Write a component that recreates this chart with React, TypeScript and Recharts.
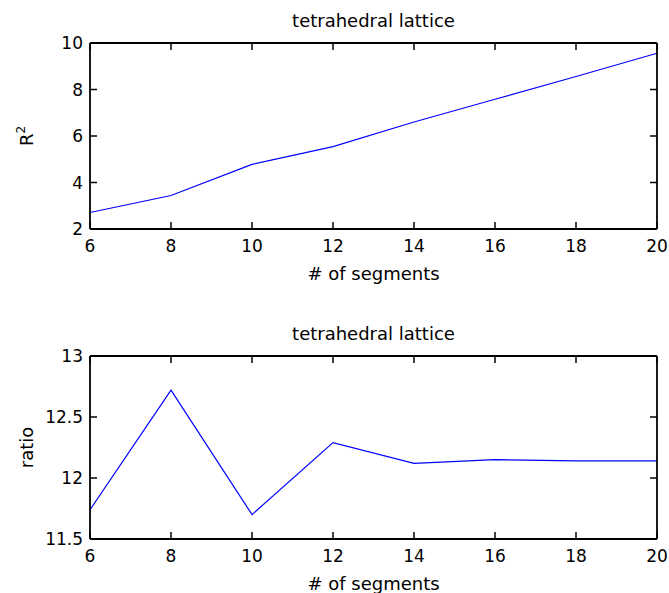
import { LineChart, Line, XAxis, YAxis } from 'recharts'

// # of segments
const segments = [6, 8, 10, 12, 14, 16, 18, 20]
// R^2 per segment count
const r2Values = [2.71, 3.44, 4.78, 5.54, 6.6, 7.58, 8.56, 9.56]
// ratio per segment count
const ratioValues = [11.74, 12.72, 11.7, 12.29, 12.12, 12.15, 12.14, 12.14]

const xTicks = [6, 8, 10, 12, 14, 16, 18, 20]
const r2Ticks = [2, 4, 6, 8, 10]
const ratioTicks = [11.5, 12, 12.5, 13]

const chartTitle = 'tetrahedral lattice'
const xTitle = '# of segments'

const FONT = '"DejaVu Sans", sans-serif'
const blank = () => ''

const topData = segments.map((n, i) => ({ n, v: r2Values[i] }))
const bottomData = segments.map((n, i) => ({ n, v: ratioValues[i] }))

function XTitle({ viewBox }: any) {
  if (!viewBox) return null
  return (
    <text x={viewBox.x + viewBox.width / 2} y={viewBox.y + 51} textAnchor="middle"
      fontSize={18} fill="#000" fontFamily={FONT}>{xTitle}</text>
  )
}

function PlotTitle({ viewBox }: any) {
  if (!viewBox) return null
  return (
    <text x={viewBox.x + viewBox.width / 2} y={viewBox.y - 15} textAnchor="middle"
      fontSize={18} fill="#000" fontFamily={FONT}>{chartTitle}</text>
  )
}

function YTitle({ viewBox, sup, text }: any) {
  if (!viewBox) return null
  const cx = 33
  const cy = viewBox.y + viewBox.height / 2
  return (
    <text x={cx} y={cy} transform={`rotate(-90, ${cx}, ${cy})`} textAnchor="middle"
      fontSize={18} fill="#000" fontFamily={FONT}>
      {text}
      {sup ? <tspan dy={-8} fontSize={12}>{sup}</tspan> : null}
    </text>
  )
}

function Panel({ data, yTicks, yDomain, yText, ySup, height, top, bottom }: any) {
  const tick = { fill: '#000', fontSize: 17, fontFamily: FONT }
  const hiddenTick = { fill: 'none', fontSize: 1 }
  const axisLine = { stroke: '#000', strokeWidth: 1.8 }
  const tickLine = { stroke: '#000', strokeWidth: 1.5 }
  // negative tickSize points the tick marks into the plot (boxed axes)
  return (
    <LineChart width={669} height={height} data={data}
      margin={{ top: top - 1, right: 11, bottom: 0, left: 0 }} style={{ fontFamily: FONT }}>
      <XAxis xAxisId="x" dataKey="n" type="number" domain={[6, 20]} ticks={xTicks}
        interval={0} height={bottom} stroke="#000" tickLine={tickLine} tickSize={-7}
        tickMargin={18} tick={tick} axisLine={axisLine}
        label={{ content: (p: any) => <XTitle viewBox={p.viewBox} /> }} />
      <XAxis xAxisId="xt" orientation="top" dataKey="n" type="number" domain={[6, 20]}
        ticks={xTicks} interval={0} height={1} stroke="#000" tickLine={tickLine}
        tickSize={-7} tick={hiddenTick} tickFormatter={blank} axisLine={axisLine}
        label={{ content: (p: any) => <PlotTitle viewBox={p.viewBox} /> }} />
      <YAxis yAxisId="y" type="number" domain={yDomain} ticks={yTicks} interval={0}
        width={90} stroke="#000" tickLine={tickLine} tickSize={-7} tickMargin={14}
        tick={tick} axisLine={axisLine}
        label={{ content: (p: any) => <YTitle viewBox={p.viewBox} text={yText} sup={ySup} /> }} />
      <YAxis yAxisId="yr" orientation="right" type="number" domain={yDomain} ticks={yTicks}
        interval={0} width={1} stroke="#000" tickLine={tickLine} tickSize={-7}
        tick={hiddenTick} tickFormatter={blank} axisLine={axisLine} />
      {/* invisible series so the box axes get a scale */}
      <Line xAxisId="xt" yAxisId="yr" dataKey="v" stroke="none" dot={false}
        isAnimationActive={false} />
      <Line xAxisId="x" yAxisId="y" type="linear" dataKey="v" stroke="#0000ff"
        strokeWidth={1.2} dot={false} isAnimationActive={false} />
    </LineChart>
  )
}

export default function App() {
  return (
    <div style={{ position: 'absolute', left: 0, top: 0, width: 669, height: 593,
      background: '#fff', fontFamily: FONT }}>
      <Panel data={topData} yTicks={r2Ticks} yDomain={[2, 10]} yText="R" ySup="2"
        height={300} top={43} bottom={71} />
      <Panel data={bottomData} yTicks={ratioTicks} yDomain={[11.5, 13]} yText="ratio"
        height={293} top={56} bottom={54} />
    </div>
  )
}
